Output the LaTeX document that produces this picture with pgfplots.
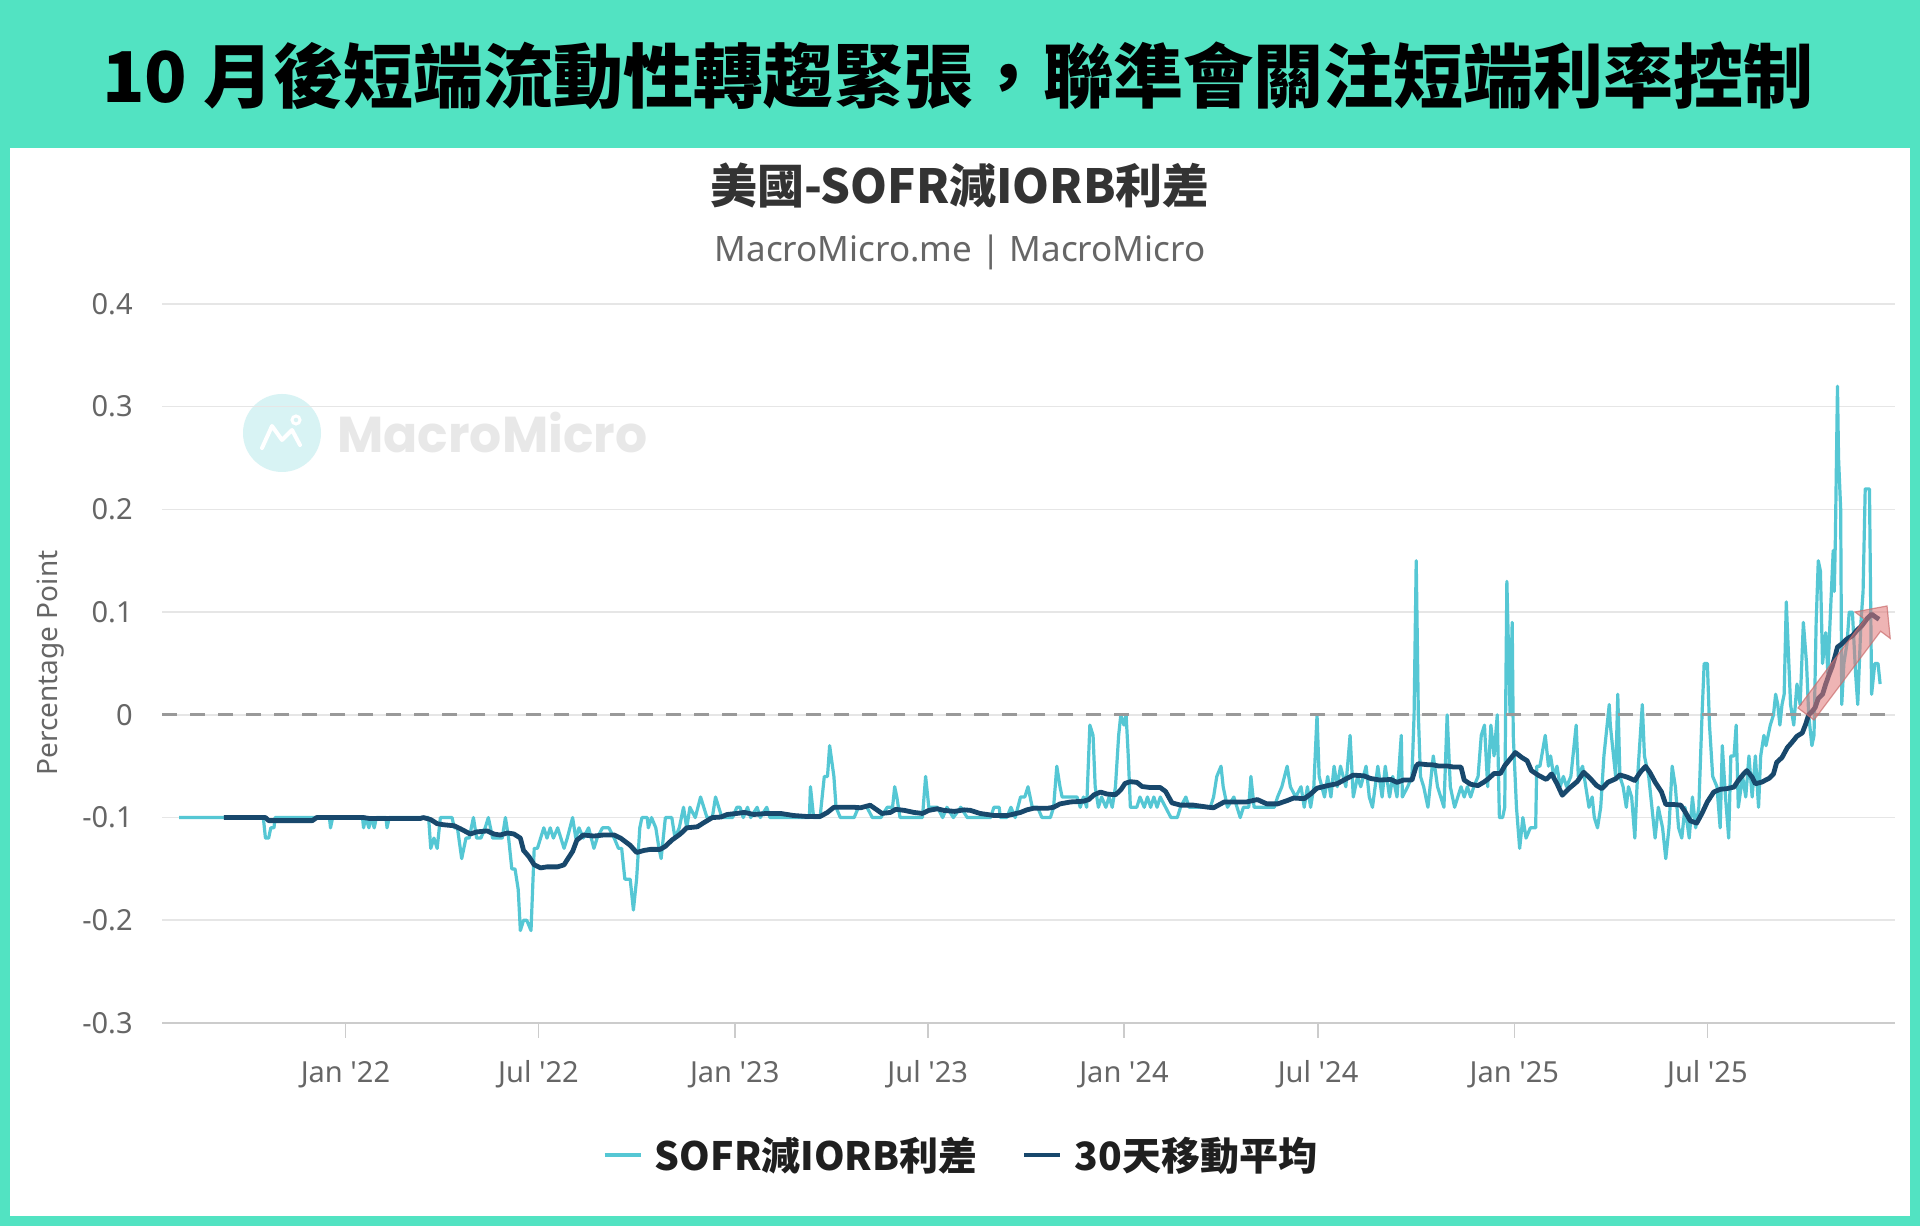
\documentclass[border=0pt]{standalone}
\usepackage{pgfplots}
\pgfplotsset{compat=1.18}
\usepackage{fontspec}
\setmainfont{Noto Sans}
\newfontfamily\cjk{Noto Sans CJK TC}
\newfontfamily\wmfont{Poppins}
\definecolor{mmteal}{RGB}{82,227,194}
\definecolor{sofr}{RGB}{85,199,212}
\definecolor{ma}{RGB}{24,72,108}
\definecolor{txtgray}{RGB}{102,102,102}
\definecolor{gridgray}{RGB}{230,230,230}
\definecolor{arrowred}{RGB}{225,120,120}
\definecolor{wmcircle}{RGB}{216,243,244}
\newcommand{\q}{\textquotesingle}
\begin{document}
\begin{tikzpicture}[x=0.5bp,y=0.5bp]
\useasboundingbox (0,0) rectangle (1920,1226);
\fill[mmteal] (0,0) rectangle (1920,1226);
\fill[white] (10,10) rectangle (1910,1078);
\node[font=\cjk\bfseries\fontsize{35bp}{40bp}\selectfont, text=black] at (958,1150) {10 月後短端流動性轉趨緊張，聯準會關注短端利率控制};
\node[font=\cjk\bfseries\fontsize{23.5bp}{28bp}\selectfont, text=black!80] at (960,1040) {美國-SOFR減IORB利差};
\node[font=\fontsize{17.5bp}{20bp}\selectfont, text=txtgray] at (960,974) {MacroMicro.me | MacroMicro};
% watermark
\fill[wmcircle] (282,793) circle (39);
\draw[white, line width=2bp, line join=round, line cap=round] (262,778) -- (272,800) -- (282,786) -- (292,796) -- (300,781);
\draw[white, line width=1.5bp] (296,806) circle (4);
\node[font=\wmfont\bfseries\fontsize{25.2bp}{30bp}\selectfont, text=black!9, anchor=west, inner sep=0] at (337,793) {MacroMicro};
% y label
\node[rotate=90, font=\fontsize{14bp}{16bp}\selectfont, text=txtgray] at (51,563) {Percentage Point};
\begin{axis}[
  at={(81bp,101.5bp)}, anchor=south west,
  width=866.5bp, height=359.5bp, scale only axis,
  xmin=-172, xmax=1453, ymin=-0.3, ymax=0.4,
  axis x line*=bottom, axis y line*=left,
  x axis line style={draw=black!20, line width=0.8bp, -},
  y axis line style={draw=none},
  xtick={0,181,365,546,730,912,1096,1277},
  xticklabels={Jan \q22,Jul \q22,Jan \q23,Jul \q23,Jan \q24,Jul \q24,Jan \q25,Jul \q25},
  ytick={-0.3,-0.2,-0.1,0,0.1,0.2,0.3,0.4},
  yticklabels={-0.3,-0.2,-0.1,0,0.1,0.2,0.3,0.4},
  tick align=outside,
  major tick length=7.5bp,
  xtick style={draw=black!20, line width=0.8bp},
  ytick style={draw=none},
  ymajorgrids, grid style={draw=gridgray, line width=0.8bp},
  ticklabel style={font=\fontsize{14.5bp}{16bp}\selectfont, text=txtgray},
  xticklabel style={anchor=base, yshift=-22.5bp},
  yticklabel style={anchor=east, inner sep=0pt, xshift=-7bp},
  legend style={at={(axis description cs:0.4602,-0.1836)}, anchor=center, draw=none, fill=none,
    legend columns=2, font=\cjk\bfseries\fontsize{19.5bp}{22bp}\selectfont, text=black!88,
    /tikz/every even column/.append style={column sep=22bp},
    /tikz/every odd column/.append style={column sep=6bp},
    inner sep=0pt, nodes={inner sep=0pt}},
  legend image code/.code={\draw[#1, line width=2.4bp] (0bp,0bp) -- (18bp,0bp);},
]
\addplot[sofr, line width=1.6bp, line join=round] coordinates {
(-156,-0.10)(-77,-0.10)(-75,-0.12)(-72,-0.12)(-70,-0.11)(-67,-0.11)(-66,-0.10)(-15,-0.10)(-14,-0.11)(-12,-0.10)
(16,-0.10)(17,-0.11)(19,-0.10)(22,-0.11)(24,-0.10)(27,-0.11)(29,-0.10)(38,-0.10)(39,-0.11)(41,-0.10)
(78,-0.10)(80,-0.13)(83,-0.12)(86,-0.13)(89,-0.10)(100,-0.10)(102,-0.11)(105,-0.11)(109,-0.14)(113,-0.12)
(116,-0.12)(120,-0.10)(123,-0.12)(127,-0.12)(131,-0.11)(134,-0.10)(138,-0.12)(142,-0.12)(147,-0.12)(150,-0.10)
(153,-0.12)(156,-0.15)(159,-0.15)(162,-0.17)(164,-0.21)(167,-0.20)(170,-0.20)(174,-0.21)(177,-0.13)(180,-0.13)
(183,-0.12)(186,-0.11)(189,-0.12)(192,-0.11)(195,-0.12)(199,-0.11)(202,-0.12)(205,-0.13)(208,-0.12)(213,-0.10)
(216,-0.12)(219,-0.11)(223,-0.12)(228,-0.11)(233,-0.13)(236,-0.12)(241,-0.11)(247,-0.11)(252,-0.12)(256,-0.13)
(259,-0.13)(262,-0.16)(267,-0.16)(270,-0.19)(273,-0.16)(276,-0.11)(278,-0.10)(283,-0.10)(284,-0.11)(287,-0.10)
(291,-0.11)(294,-0.13)(296,-0.14)(300,-0.10)(306,-0.10)(309,-0.12)(313,-0.11)(317,-0.09)(320,-0.11)(323,-0.09)
(328,-0.10)(333,-0.08)(336,-0.09)(339,-0.10)(344,-0.10)(347,-0.08)(350,-0.09)(353,-0.10)(363,-0.10)(367,-0.09)
(370,-0.09)(373,-0.10)(377,-0.09)(380,-0.10)(386,-0.09)(389,-0.10)(395,-0.09)(398,-0.10)(435,-0.10)(436,-0.07)
(439,-0.10)(445,-0.10)(449,-0.06)(452,-0.06)(454,-0.03)(458,-0.06)(460,-0.09)(464,-0.10)(477,-0.10)(481,-0.09)
(489,-0.09)(494,-0.10)(502,-0.10)(508,-0.09)(513,-0.09)(515,-0.07)(517,-0.08)(520,-0.10)(541,-0.10)(544,-0.06)
(547,-0.09)(555,-0.09)(560,-0.10)(564,-0.09)(570,-0.10)(577,-0.09)(583,-0.10)(605,-0.10)(608,-0.09)(613,-0.09)
(614,-0.10)(620,-0.10)(624,-0.09)(628,-0.10)(633,-0.08)(637,-0.08)(640,-0.07)(644,-0.09)(649,-0.09)(653,-0.10)
(661,-0.10)(664,-0.09)(667,-0.05)(670,-0.07)(672,-0.08)(686,-0.08)(689,-0.09)(692,-0.08)(695,-0.09)(698,-0.01)
(701,-0.02)(703,-0.07)(706,-0.09)(709,-0.08)(713,-0.09)(716,-0.08)(719,-0.09)(722,-0.07)(725,-0.02)(727,0.00)
(730,-0.01)(732,0.00)(734,-0.04)(736,-0.09)(742,-0.09)(745,-0.08)(749,-0.09)(752,-0.08)(755,-0.09)(758,-0.08)
(761,-0.09)(764,-0.08)(769,-0.09)(774,-0.10)(780,-0.10)(783,-0.09)(788,-0.08)(791,-0.09)(811,-0.09)(814,-0.08)
(817,-0.06)(821,-0.05)(823,-0.07)(827,-0.09)(833,-0.08)(836,-0.09)(839,-0.10)(842,-0.09)(847,-0.09)(849,-0.06)
(852,-0.09)(871,-0.09)(874,-0.08)(878,-0.07)(883,-0.05)(886,-0.07)(891,-0.08)(896,-0.07)(899,-0.09)(902,-0.07)
(905,-0.09)(908,-0.07)(911,0.00)(913,-0.06)(918,-0.08)(921,-0.06)(924,-0.08)(927,-0.05)(930,-0.07)(933,-0.05)
(938,-0.07)(942,-0.02)(945,-0.08)(949,-0.06)(952,-0.07)(957,-0.05)(960,-0.08)(963,-0.09)(968,-0.05)(972,-0.08)
(975,-0.05)(979,-0.08)(982,-0.06)(986,-0.08)(990,-0.02)(991,-0.08)(996,-0.07)(1000,-0.06)(1002,0.00)(1004,0.15)
(1006,0.00)(1008,-0.06)(1011,-0.07)(1015,-0.09)(1018,-0.06)(1020,-0.04)(1024,-0.07)(1027,-0.08)(1030,-0.09)(1033,0.00)
(1036,-0.07)(1040,-0.09)(1043,-0.08)(1046,-0.07)(1049,-0.08)(1052,-0.07)(1055,-0.08)(1058,-0.07)(1062,-0.06)(1065,-0.02)
(1068,-0.01)(1071,-0.07)(1074,-0.01)(1077,-0.04)(1080,0.00)(1082,-0.10)(1085,-0.10)(1087,-0.09)(1089,0.13)(1092,0.00)
(1094,0.09)(1095,-0.02)(1098,-0.09)(1101,-0.13)(1104,-0.10)(1107,-0.12)(1111,-0.11)(1116,-0.11)(1117,-0.05)(1120,-0.05)
(1125,-0.02)(1128,-0.05)(1130,-0.04)(1133,-0.06)(1136,-0.05)(1139,-0.07)(1142,-0.06)(1145,-0.07)(1149,-0.06)(1154,-0.01)
(1156,-0.06)(1160,-0.05)(1163,-0.07)(1166,-0.09)(1169,-0.08)(1171,-0.10)(1174,-0.11)(1177,-0.09)(1180,-0.04)(1182,-0.02)
(1185,0.01)(1186,-0.01)(1189,-0.04)(1191,-0.06)(1193,0.02)(1195,-0.06)(1198,-0.07)(1201,-0.09)(1203,-0.07)(1206,-0.08)
(1209,-0.12)(1211,-0.07)(1216,0.01)(1218,-0.04)(1222,-0.06)(1225,-0.09)(1228,-0.12)(1231,-0.09)(1235,-0.11)(1238,-0.14)
(1241,-0.11)(1244,-0.05)(1247,-0.07)(1250,-0.11)(1253,-0.12)(1256,-0.09)(1260,-0.12)(1263,-0.08)(1266,-0.11)(1269,-0.09)
(1272,0.00)(1274,0.05)(1277,0.05)(1279,-0.01)(1282,-0.06)(1286,-0.07)(1289,-0.11)(1291,-0.03)(1294,-0.08)(1297,-0.12)
(1299,-0.04)(1302,-0.04)(1304,-0.01)(1306,-0.09)(1310,-0.06)(1313,-0.08)(1316,-0.04)(1319,-0.08)(1322,-0.04)(1325,-0.09)
(1327,-0.04)(1330,-0.02)(1332,-0.03)(1336,-0.01)(1339,0.00)(1341,0.02)(1343,0.01)(1345,-0.01)(1347,0.01)(1349,0.02)
(1351,0.11)(1353,0.06)(1355,0.01)(1358,-0.01)(1361,0.03)(1364,0.01)(1367,0.09)(1370,0.05)(1372,0.00)(1375,-0.03)
(1377,-0.02)(1379,0.09)(1381,0.15)(1383,0.14)(1385,0.05)(1388,0.08)(1390,0.04)(1392,0.09)(1395,0.16)(1396,0.12)
(1397,0.17)(1399,0.32)(1400,0.25)(1402,0.20)(1403,0.01)(1405,0.05)(1408,0.07)(1410,0.10)(1413,0.10)(1416,0.04)
(1418,0.01)(1421,0.09)(1423,0.12)(1425,0.22)(1429,0.22)(1431,0.02)(1434,0.05)(1437,0.05)(1439,0.03)
};
\addlegendentry{SOFR減IORB利差}
\addplot[ma, line width=2.4bp, line join=round] coordinates {
(-114,-0.100)(-75,-0.100)(-72,-0.103)(-31,-0.103)(-27,-0.100)(17,-0.100)(23,-0.101)(70,-0.101)(73,-0.100)(80,-0.102)
(86,-0.106)(92,-0.107)(102,-0.108)(108,-0.111)(117,-0.116)(123,-0.114)(133,-0.113)(139,-0.116)(145,-0.117)(152,-0.115)
(158,-0.116)(164,-0.120)(167,-0.132)(172,-0.138)(177,-0.146)(183,-0.149)(189,-0.148)(199,-0.148)(205,-0.146)(208,-0.141)
(213,-0.133)(217,-0.122)(223,-0.117)(233,-0.118)(242,-0.117)(252,-0.117)(258,-0.120)(267,-0.127)(273,-0.134)(280,-0.132)
(286,-0.131)(295,-0.131)(300,-0.128)(306,-0.122)(314,-0.116)(320,-0.110)(330,-0.109)(336,-0.105)(344,-0.100)(352,-0.0995)
(358,-0.097)(367,-0.096)(374,-0.095)(383,-0.097)(395,-0.096)(408,-0.096)(420,-0.098)(433,-0.099)(445,-0.099)(452,-0.095)
(458,-0.090)(477,-0.090)(483,-0.0905)(492,-0.088)(499,-0.093)(503,-0.096)(511,-0.095)(516,-0.092)(524,-0.093)(533,-0.095)
(541,-0.096)(547,-0.093)(555,-0.0915)(561,-0.093)(571,-0.094)(580,-0.0925)(586,-0.093)(595,-0.096)(608,-0.098)(621,-0.098)
(633,-0.095)(639,-0.0925)(645,-0.091)(658,-0.091)(664,-0.090)(670,-0.0867)(680,-0.0848)(692,-0.0841)(697,-0.0825)(702,-0.0778)
(708,-0.0752)(714,-0.0771)(722,-0.0778)(727,-0.073)(731,-0.0667)(736,-0.0651)(742,-0.0657)(747,-0.0698)(755,-0.0708)(764,-0.0708)
(769,-0.0746)(775,-0.0857)(783,-0.0879)(795,-0.0879)(808,-0.0898)(814,-0.0905)(824,-0.0848)(833,-0.0848)(845,-0.0848)(855,-0.0825)
(864,-0.0867)(874,-0.0867)(883,-0.0835)(889,-0.081)(899,-0.0816)(905,-0.0771)(911,-0.0714)(921,-0.0689)(930,-0.067)(939,-0.0619)
(945,-0.0587)(955,-0.0594)(961,-0.0619)(970,-0.0635)(980,-0.0629)(986,-0.0657)(992,-0.0635)(1000,-0.0635)(1004,-0.0498)(1006,-0.0476)
(1015,-0.0486)(1019,-0.0486)(1025,-0.0498)(1033,-0.0498)(1039,-0.0508)(1046,-0.0508)(1049,-0.0635)(1055,-0.0676)(1062,-0.0689)(1068,-0.0651)
(1072,-0.0619)(1077,-0.0571)(1083,-0.0571)(1087,-0.0495)(1092,-0.0431)(1097,-0.0367)(1103,-0.0415)(1108,-0.0447)(1112,-0.0543)(1119,-0.0591)
(1126,-0.0629)(1131,-0.0575)(1136,-0.0671)(1141,-0.0783)(1147,-0.0719)(1155,-0.0649)(1161,-0.0559)(1167,-0.0617)(1173,-0.0687)(1178,-0.0719)
(1184,-0.0655)(1191,-0.0623)(1195,-0.0585)(1202,-0.0607)(1209,-0.0639)(1214,-0.0559)(1219,-0.0502)(1223,-0.0559)(1228,-0.0655)(1234,-0.0751)
(1238,-0.0872)(1244,-0.0872)(1252,-0.0879)(1256,-0.0942)(1261,-0.1032)(1267,-0.1054)(1272,-0.0958)(1277,-0.0847)(1283,-0.0751)(1289,-0.0725)
(1295,-0.0719)(1302,-0.0703)(1306,-0.0639)(1311,-0.0575)(1314,-0.0543)(1319,-0.0607)(1322,-0.0671)(1328,-0.0655)(1335,-0.0617)(1339,-0.0575)
(1342,-0.0463)(1347,-0.0415)(1352,-0.0319)(1356,-0.0272)(1361,-0.0208)(1366,-0.0176)(1369,-0.0096)(1372,0.000)(1375,0.003)(1378,0.007)
(1381,0.016)(1385,0.020)(1388,0.030)(1391,0.039)(1394,0.047)(1397,0.058)(1399,0.066)(1403,0.069)(1408,0.074)(1413,0.077)
(1417,0.082)(1422,0.087)(1427,0.094)(1431,0.098)(1435,0.095)(1438,0.093)
};
\addlegendentry{30天移動平均}
\addplot[black!40, line width=1.5bp, dash pattern=on 7.5bp off 6.5bp, forget plot] coordinates {(-172,0)(1453,0)};
\end{axis}
% annotation arrow
\filldraw[draw=arrowred!90!black, line width=0.6bp, fill=arrowred, fill opacity=0.55, draw opacity=0.7]
 (1814,506) -- (1798,518) -- (1864.6,606.8) -- (1855,614) -- (1887,620) -- (1890.2,587.6) -- (1880.6,594.8) -- cycle;
\end{tikzpicture}
\end{document}
